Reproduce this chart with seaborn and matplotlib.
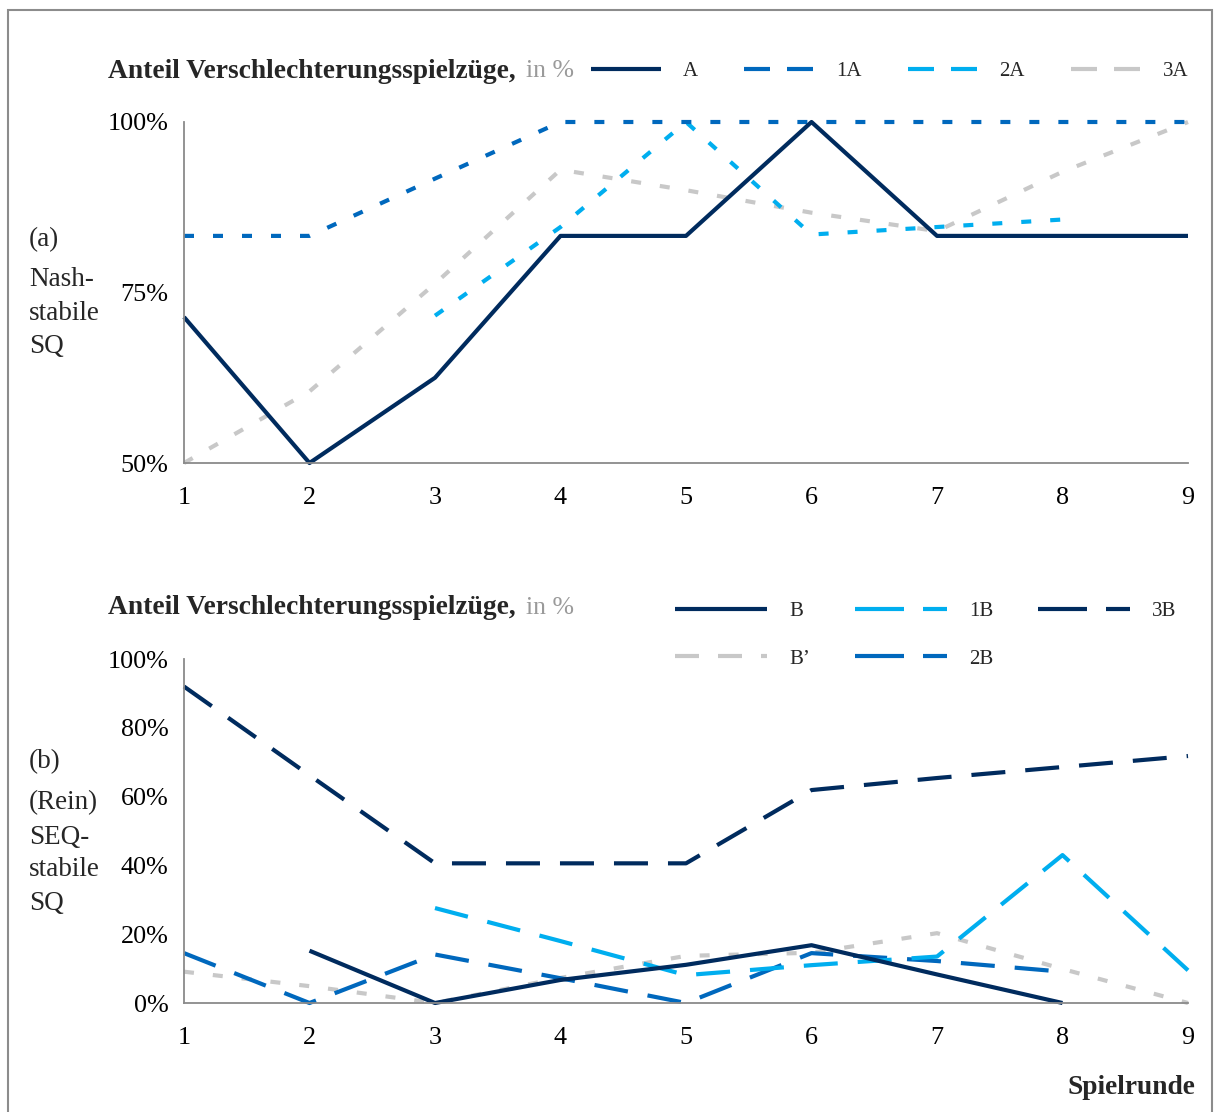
import numpy as np
import pandas as pd
import matplotlib
matplotlib.use("Agg")
import matplotlib.pyplot as plt
from matplotlib.lines import Line2D
from matplotlib.patches import Rectangle
import seaborn as sns

# ---------------- data ----------------
nan = np.nan
rounds = [1, 2, 3, 4, 5, 6, 7, 8, 9]

# panel (a) Nash-stabile SQ
A_vals  = [71.4, 50.0, 62.5, 83.3, 83.3, 100.0, 83.3, 83.3, 83.3]
A1_vals = [83.3, 83.3, 91.7, 100.0, 100.0, 100.0, 100.0, 100.0, 100.0]
A2_vals = [nan, nan, 71.6, 84.6, 100.0, 83.5, 84.6, 85.7, nan]
A3_vals = [50.0, 60.5, 76.3, 93.0, 90.0, 86.7, 84.0, 92.7, 100.0]

# panel (b) (Rein) SEQ-stabile SQ
B_vals  = [nan, 15.2, 0.0, 6.7, 11.1, 16.8, 8.3, 0.0, nan]
Bp_vals = [9.1, 4.9, 0.0, 7.3, 13.7, 14.6, 20.3, 9.9, 0.0]
B1_vals = [nan, nan, 27.6, 18.0, 8.1, 11.0, 13.5, 43.0, 9.5]
B2_vals = [14.5, 0.0, 14.1, 7.2, 0.0, 14.5, 12.2, 9.1, nan]
B3_vals = [92.0, 66.2, 40.6, 40.6, 40.6, 61.9, 65.4, 68.6, 71.8]

labels_a = ["A", "1A", "2A", "3A"]
labels_b = ["B", "B\u2019", "1B", "2B", "3B"]
yticks_a = [50, 75, 100]
yticks_b = [0, 20, 40, 60, 80, 100]

# ---------------- style ----------------
sns.set_style("white")
plt.rcParams["font.family"] = ["Liberation Serif", "DejaVu Serif"]
plt.rcParams["lines.scale_dashes"] = False

NAVY = "#002B5E"
MID = "#0068BD"
LIGHT = "#00AEEF"
GRAY = "#C8C8C8"
AXC = "#8A8A8A"
LW = 3.0
PX = 0.72  # px -> pt at 100 dpi

short = (0, (10 * PX, 19 * PX))
long_ = (0, (34 * PX, 20 * PX))

W, H = 1214, 1112
fig = plt.figure(figsize=(W / 100, H / 100), dpi=100)


def fx(x):
    return x / W


def fy(y):
    return 1 - y / H


axA = fig.add_axes([fx(184), fy(463), fx(1188) - fx(184), fy(122) - fy(463)])
axB = fig.add_axes([fx(184), fy(1003), fx(1188) - fx(184), fy(659) - fy(1003)])


def draw(ax, vals, color, ls):
    df = pd.DataFrame({"Spielrunde": rounds, "v": vals}).dropna()
    sns.lineplot(data=df, x="Spielrunde", y="v", ax=ax, color=color,
                 linestyle=ls, linewidth=LW, clip_on=False, legend=False,
                 solid_capstyle="butt", dash_capstyle="butt")


draw(axA, A3_vals, GRAY, short)
draw(axA, A2_vals, LIGHT, short)
draw(axA, A1_vals, MID, short)
draw(axA, A_vals, NAVY, "-")

draw(axB, Bp_vals, GRAY, short)
draw(axB, B2_vals, MID, long_)
draw(axB, B1_vals, LIGHT, long_)
draw(axB, B_vals, NAVY, "-")
draw(axB, B3_vals, NAVY, long_)

for ax, yt, lim in [(axA, yticks_a, (50, 100)), (axB, yticks_b, (0, 100))]:
    ax.set_xlim(1, 9)
    ax.set_ylim(*lim)
    ax.set_xticks(rounds)
    ax.set_xticklabels([str(r) for r in rounds])
    ax.set_yticks(yt)
    ax.set_yticklabels([f"{v}%" for v in yt])
    ax.set_xlabel("")
    ax.set_ylabel("")
    for s in ["top", "right"]:
        ax.spines[s].set_visible(False)
    for s in ["left", "bottom"]:
        ax.spines[s].set_color(AXC)
        ax.spines[s].set_linewidth(1.3)
    ax.tick_params(axis="both", direction="in", length=6, width=1.2,
                   color=AXC, labelsize=18.8, labelcolor="black")
    ax.tick_params(axis="y", pad=11)
    ax.tick_params(axis="x", pad=17)
    ax.set_facecolor("none")

# ---------------- legends ----------------
FS_LEG = 15
em = FS_LEG / 72 * 100

lg_short = (0, (26 * PX, 17 * PX))
hA = [Line2D([], [], color=NAVY, lw=LW, solid_capstyle="butt"),
      Line2D([], [], color=MID, lw=LW, linestyle=lg_short, dash_capstyle="butt"),
      Line2D([], [], color=LIGHT, lw=LW, linestyle=lg_short, dash_capstyle="butt"),
      Line2D([], [], color=GRAY, lw=LW, linestyle=lg_short, dash_capstyle="butt")]
fig.legend(hA, labels_a, loc="center left", bbox_to_anchor=(fx(591), fy(71)),
           ncol=4, frameon=False, fontsize=FS_LEG, handlelength=70 / em,
           handletextpad=22 / em, columnspacing=46 / em, borderpad=0,
           borderaxespad=0)

lg_long = (0, (49 * PX, 19 * PX))
lg_bp = (0, (24 * PX, 19 * PX))
hB = [Line2D([], [], color=NAVY, lw=LW, solid_capstyle="butt"),
      Line2D([], [], color=GRAY, lw=LW, linestyle=lg_bp, dash_capstyle="butt"),
      Line2D([], [], color=LIGHT, lw=LW, linestyle=lg_long, dash_capstyle="butt"),
      Line2D([], [], color=MID, lw=LW, linestyle=lg_long, dash_capstyle="butt"),
      Line2D([], [], color=NAVY, lw=LW, linestyle=lg_long, dash_capstyle="butt")]
fig.legend(hB, labels_b, loc="center left", bbox_to_anchor=(fx(675), fy(635)),
           ncol=3, frameon=False, fontsize=FS_LEG, handlelength=92 / em,
           handletextpad=22 / em, columnspacing=45 / em, labelspacing=1.36,
           borderpad=0, borderaxespad=0)

# ---------------- texts ----------------
TFS = 19.8
for ty in (71, 608):
    fig.text(fx(108), fy(ty), "Anteil Verschlechterungsspielzüge,",
             weight="bold", size=TFS, va="center", ha="left")
    fig.text(fx(526), fy(ty), "in %", color="#9A9A9A", size=18.5,
             va="center", ha="left")

for txt, y in [("(a)", 240), ("Nash-", 280), ("stabile", 313), ("SQ", 346),
               ("(b)", 762), ("(Rein)", 803), ("SEQ-", 837), ("stabile", 870),
               ("SQ", 903)]:
    fig.text(fx(29), fy(y), txt, size=19.5, va="center", ha="left")

fig.text(fx(1195), fy(1087), "Spielrunde", weight="bold", size=19.7,
         va="center", ha="right")

fig.patches.append(Rectangle((fx(8), fy(1130)), fx(1212) - fx(8),
                             fy(10) - fy(1130), fill=False, edgecolor="#8C8C8C",
                             lw=1.5, transform=fig.transFigure, figure=fig))

fig.savefig("out.png", dpi=100)
